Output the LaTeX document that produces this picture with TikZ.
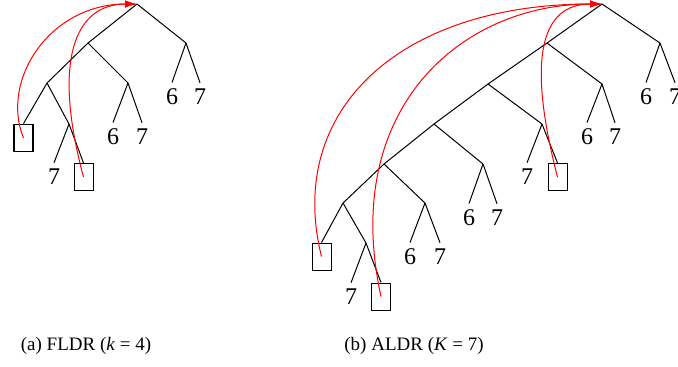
\documentclass[tikz,border=0pt]{standalone}
\usepackage{fontspec}
\setmainfont{Liberation Serif}
\usetikzlibrary{arrows.meta}

\begin{document}
\begin{tikzpicture}[x=0.5pt, y=-0.5pt, >={Latex[length=6pt,width=3.6pt]},
    edge/.style={line width=0.5pt},
    leaf/.style={font=\fontsize{12}{14}\selectfont, inner sep=3pt},
    slot/.style={draw, line width=0.5pt, minimum width=9.5pt, minimum height=13.5pt, inner sep=0pt},
    jump/.style={draw=red, line width=0.5pt, ->},
    caption/.style={font=\fontsize{9.5}{11}\selectfont, inner sep=0pt}]
    \useasboundingbox (0,0) rectangle (678,366);

    \coordinate (aroot) at (137,4);
    \coordinate (ar) at (186,43);
    \coordinate (al) at (88,43);
    \coordinate (alr) at (128,83);
    \coordinate (all) at (47,83);
    \coordinate (allr) at (69,124);
    \node[leaf] (ar6) at (172,97) {6};
    \node[leaf] (ar7) at (200,97) {7};
    \node[leaf] (alr6) at (113,137) {6};
    \node[leaf] (alr7) at (142,137) {7};
    \node[slot, line width=0.9pt] (abox1) at (23.5,138) {};
    \node[leaf] (allr7) at (54,177) {7};
    \node[slot] (abox2) at (83.5,177) {};
    \draw[edge] (aroot) -- (ar);
    \draw[edge] (aroot) -- (al);
    \draw[edge] (ar) -- (ar6.north);
    \draw[edge] (ar) -- (ar7.north);
    \draw[edge] (al) -- (alr);
    \draw[edge] (al) -- (all);
    \draw[edge] (alr) -- (alr6.north);
    \draw[edge] (alr) -- (alr7.north);
    \draw[edge] (all) -- (abox1.north);
    \draw[edge] (all) -- (allr);
    \draw[edge] (allr) -- (allr7.north);
    \draw[edge] (allr) -- (abox2.north);
    \draw[jump] (abox1.center) .. controls (0,80) and (50,4) .. (aroot);
    \draw[jump] (abox2.center) .. controls (52,60) and (75,4) .. (aroot);
    \node[caption] (capa) at (86,346) {(a) FLDR (\textit{k} = 4)};

    \coordinate (broot) at (602,4);
    \coordinate (br) at (660,43);
    \coordinate (b1) at (547,43);
    \coordinate (b1r) at (602,84);
    \coordinate (b2) at (488,84);
    \coordinate (b2r) at (542,124);
    \coordinate (b3) at (434,124);
    \coordinate (b3r) at (483,164);
    \coordinate (b4) at (384,164);
    \coordinate (b4r) at (425,203);
    \coordinate (b5) at (343,203);
    \coordinate (b5r) at (366,243);
    \node[leaf] (br6) at (646,97) {6};
    \node[leaf] (br7) at (675,97) {7};
    \node[leaf] (b1r6) at (587,137) {6};
    \node[leaf] (b1r7) at (615,137) {7};
    \node[leaf] (b2r7) at (527,177) {7};
    \node[slot] (bbox3) at (557.5,177) {};
    \node[leaf] (b3r6) at (469,218) {6};
    \node[leaf] (b3r7) at (497,218) {7};
    \node[leaf] (b4r6) at (410,257) {6};
    \node[leaf] (b4r7) at (440,257) {7};
    \node[slot] (bbox1) at (321.5,256.5) {};
    \node[leaf] (b5r7) at (351,297) {7};
    \node[slot] (bbox2) at (381,296.5) {};
    \draw[edge] (broot) -- (br);
    \draw[edge] (broot) -- (b1);
    \draw[edge] (br) -- (br6.north);
    \draw[edge] (br) -- (br7.north);
    \draw[edge] (b1) -- (b1r);
    \draw[edge] (b1) -- (b2);
    \draw[edge] (b1r) -- (b1r6.north);
    \draw[edge] (b1r) -- (b1r7.north);
    \draw[edge] (b2) -- (b2r);
    \draw[edge] (b2) -- (b3);
    \draw[edge] (b2r) -- (b2r7.north);
    \draw[edge] (b2r) -- (bbox3.north);
    \draw[edge] (b3) -- (b3r);
    \draw[edge] (b3) -- (b4);
    \draw[edge] (b3r) -- (b3r6.north);
    \draw[edge] (b3r) -- (b3r7.north);
    \draw[edge] (b4) -- (b4r);
    \draw[edge] (b4) -- (b5);
    \draw[edge] (b4r) -- (b4r6.north);
    \draw[edge] (b4r) -- (b4r7.north);
    \draw[edge] (b5) -- (bbox1.north);
    \draw[edge] (b5) -- (b5r);
    \draw[edge] (b5r) -- (b5r7.north);
    \draw[edge] (b5r) -- (bbox2.north);
    \draw[jump] (bbox1.center) .. controls (285,110) and (400,4) .. (broot);
    \draw[jump] (bbox2.center) .. controls (340,110) and (460,4) .. (broot);
    \draw[jump] (bbox3.center) .. controls (522,40) and (550,4) .. (broot);
    \node[caption] (capb) at (414,346) {(b) ALDR (\textit{K} = 7)};
\end{tikzpicture}
\end{document}
